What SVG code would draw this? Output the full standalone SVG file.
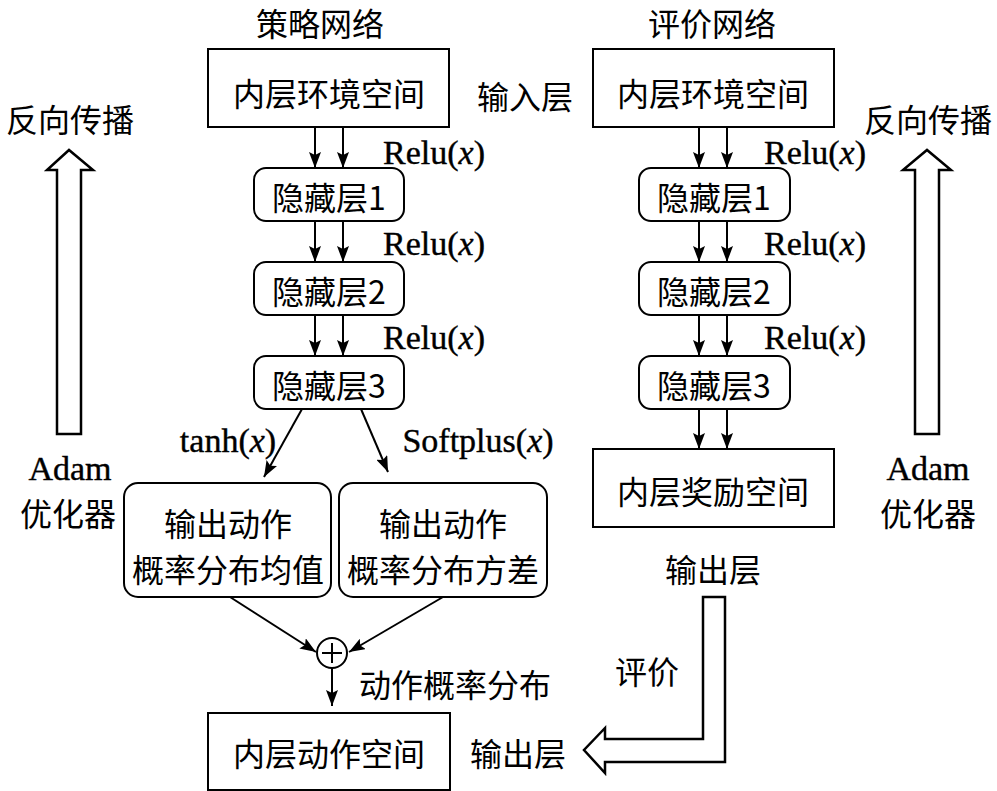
<svg xmlns="http://www.w3.org/2000/svg" width="997" height="791" viewBox="0 0 997 791">
<style>
text{font-family:"Noto Sans CJK SC","Liberation Serif",serif;font-size:32px;fill:#000;text-anchor:middle;dominant-baseline:central}
.lat{font-family:"Liberation Serif","Noto Sans CJK SC",serif;font-size:34px;stroke:#000;stroke-width:0.4}
.box{fill:#fff;stroke:#000;stroke-width:2}
.ln{stroke:#000;stroke-width:2;fill:none}
.big{fill:#fff;stroke:#000;stroke-width:2.5;stroke-linejoin:miter}
</style>
<defs>
<marker id="ah" viewBox="0 0 16 12" refX="16" refY="6" markerWidth="16" markerHeight="12" markerUnits="userSpaceOnUse" orient="auto">
<path d="M0,0 L16,6 L0,12 L3,6 Z" fill="#000"/>
</marker>
</defs>
<rect width="997" height="791" fill="#fff"/>
<text x="320" y="22" font-size="30">策略网络</text>
<text x="712" y="22" font-size="30">评价网络</text>
<text x="525" y="95">输入层</text>
<g id="connectors">
<line class="ln" x1="315" y1="127" x2="315" y2="168" marker-end="url(#ah)"/>
<line class="ln" x1="343" y1="127" x2="343" y2="168" marker-end="url(#ah)"/>
<line class="ln" x1="315" y1="221" x2="315" y2="262" marker-end="url(#ah)"/>
<line class="ln" x1="343" y1="221" x2="343" y2="262" marker-end="url(#ah)"/>
<line class="ln" x1="315" y1="315" x2="315" y2="356" marker-end="url(#ah)"/>
<line class="ln" x1="343" y1="315" x2="343" y2="356" marker-end="url(#ah)"/>
<line class="ln" x1="699" y1="127" x2="699" y2="168" marker-end="url(#ah)"/>
<line class="ln" x1="727" y1="127" x2="727" y2="168" marker-end="url(#ah)"/>
<line class="ln" x1="699" y1="221" x2="699" y2="262" marker-end="url(#ah)"/>
<line class="ln" x1="727" y1="221" x2="727" y2="262" marker-end="url(#ah)"/>
<line class="ln" x1="699" y1="315" x2="699" y2="356" marker-end="url(#ah)"/>
<line class="ln" x1="727" y1="315" x2="727" y2="356" marker-end="url(#ah)"/>
<line class="ln" x1="699" y1="409" x2="699" y2="449" marker-end="url(#ah)"/>
<line class="ln" x1="727" y1="409" x2="727" y2="449" marker-end="url(#ah)"/>
<line class="ln" x1="302" y1="409" x2="264" y2="477" marker-end="url(#ah)"/>
<line class="ln" x1="361" y1="409" x2="388" y2="472" marker-end="url(#ah)"/>
<line class="ln" x1="230" y1="597" x2="316" y2="652" marker-end="url(#ah)"/>
<line class="ln" x1="443" y1="597" x2="349" y2="652" marker-end="url(#ah)"/>
<line class="ln" x1="332" y1="668" x2="332" y2="706" marker-end="url(#ah)"/>
</g>
<text class="lat" x="434" y="152">Relu(<tspan font-style="italic">x</tspan>)</text>
<text class="lat" x="434" y="243">Relu(<tspan font-style="italic">x</tspan>)</text>
<text class="lat" x="434" y="337">Relu(<tspan font-style="italic">x</tspan>)</text>
<text class="lat" x="815" y="152">Relu(<tspan font-style="italic">x</tspan>)</text>
<text class="lat" x="815" y="243">Relu(<tspan font-style="italic">x</tspan>)</text>
<text class="lat" x="815" y="337">Relu(<tspan font-style="italic">x</tspan>)</text>
<text class="lat" x="228" y="440">tanh(<tspan font-style="italic">x</tspan>)</text>
<text class="lat" x="478" y="440">Softplus(<tspan font-style="italic">x</tspan>)</text>
<g id="env1"><rect class="box" x="208" y="49" width="241" height="78"/><text x="329" y="92">内层环境空间</text></g>
<g id="env2"><rect class="box" x="593" y="49" width="241" height="78"/><text x="713" y="92">内层环境空间</text></g>
<g id="h1a"><rect class="box" x="254" y="168" width="150" height="53" rx="12"/><text x="329" y="196">隐藏层1</text></g>
<g id="h2a"><rect class="box" x="254" y="262" width="150" height="53" rx="12"/><text x="329" y="290">隐藏层2</text></g>
<g id="h3a"><rect class="box" x="254" y="356" width="150" height="53" rx="12"/><text x="329" y="384">隐藏层3</text></g>
<g id="h1b"><rect class="box" x="639" y="168" width="151" height="53" rx="12"/><text x="714" y="196">隐藏层1</text></g>
<g id="h2b"><rect class="box" x="639" y="262" width="151" height="53" rx="12"/><text x="714" y="290">隐藏层2</text></g>
<g id="h3b"><rect class="box" x="639" y="356" width="151" height="53" rx="12"/><text x="714" y="384">隐藏层3</text></g>
<g id="mean"><rect class="box" x="124" y="483" width="207" height="114" rx="14"/><text x="228" y="522">输出动作</text><text x="228" y="568">概率分布均值</text></g>
<g id="var"><rect class="box" x="339" y="483" width="208" height="114" rx="14"/><text x="443" y="522">输出动作</text><text x="443" y="568">概率分布方差</text></g>
<g id="reward"><rect class="box" x="593" y="449" width="241" height="78"/><text x="713" y="490">内层奖励空间</text></g>
<g id="sum"><circle class="box" cx="332" cy="653" r="15"/><path class="ln" d="M322,653 H342 M332,643 V663"/></g>
<text x="455" y="683">动作概率分布</text>
<g id="act"><rect class="box" x="208" y="713" width="242" height="77"/><text x="329" y="752">内层动作空间</text></g>
<text x="518" y="752">输出层</text>
<text x="713" y="568">输出层</text>
<text x="647" y="670">评价</text>
<g id="evalArrow"><polygon class="big" points="703,597 725,597 725,762 605,762 605,773 584,750 605,728 605,739 703,739"/></g>
<g id="bpL"><polygon class="big" points="57,434 81,434 81,170 93,170 69,150 47,170 57,170"/></g>
<g id="bpR"><polygon class="big" points="915,434 939,434 939,170 951,170 927,150 903,170 915,170"/></g>
<text x="70" y="118">反向传播</text>
<text x="928" y="118">反向传播</text>
<text class="lat" x="70" y="468">Adam</text>
<text x="68" y="512">优化器</text>
<text class="lat" x="928" y="468">Adam</text>
<text x="928" y="512">优化器</text>
</svg>
